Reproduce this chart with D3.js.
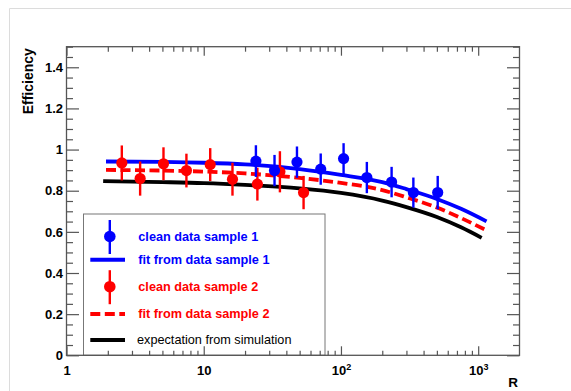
<!DOCTYPE html>
<html>
<head>
<meta charset="utf-8">
<script src="https://cdn.jsdelivr.net/npm/d3@7"></script>
<style>
  html, body { margin: 0; padding: 0; background: #fff; }
  svg { display: block; font-family: "Liberation Sans", Arial, sans-serif; }
</style>
</head>
<body>
<svg id="chart" width="571" height="391"></svg>
<script>
// ---- data ----
const redR   = [2.53, 3.44, 5.09, 7.48, 11.15, 16.2, 24.6, 35.9, 53.4];
const redEff = [0.935, 0.859, 0.931, 0.898, 0.927, 0.856, 0.832, 0.892, 0.791];
const redErr = [0.085, 0.083, 0.08, 0.082, 0.08, 0.08, 0.08, 0.10, 0.081];

const blueR   = [24.0, 32.8, 47.8, 71.2, 104.5, 154.4, 233.9, 337, 507];
const blueEff = [0.944, 0.898, 0.939, 0.905, 0.956, 0.864, 0.842, 0.791, 0.791];
const blueErr = [0.077, 0.076, 0.076, 0.076, 0.075, 0.076, 0.074, 0.073, 0.081];

const fit1R   = [1.94, 5, 10, 20, 50, 100, 200, 300, 500, 750, 1150];
const fit1Eff = [0.942, 0.940, 0.936, 0.928, 0.905, 0.877, 0.842, 0.808, 0.760, 0.712, 0.651];

const fit2R   = [1.94, 5, 10, 20, 50, 100, 200, 300, 500, 750, 1150];
const fit2Eff = [0.901, 0.898, 0.893, 0.884, 0.862, 0.838, 0.803, 0.768, 0.718, 0.667, 0.607];

const simR    = [1.85, 5, 10, 20, 50, 100, 200, 300, 500, 750, 1060];
const simEff  = [0.847, 0.842, 0.837, 0.828, 0.811, 0.789, 0.752, 0.720, 0.672, 0.622, 0.571];

const yTicks = [0, 0.2, 0.4, 0.6, 0.8, 1, 1.2, 1.4];
const yTickLabels = ["0", "0.2", "0.4", "0.6", "0.8", "1", "1.2", "1.4"];
const xTicks = [1, 10, 100, 1000];
const xTickLabels = [["1", ""], ["10", ""], ["10", "2"], ["10", "3"]];

const legendLabels = ["clean data sample 1", "fit from data sample 1",
                      "clean data sample 2", "fit from data sample 2",
                      "expectation from simulation"];

// ---- layout ----
const svg = d3.select("#chart");
const L = 66.5, R = 519.5, T = 46.7, B = 355.3;
const BLUE = "#0000ff", RED = "#ff0000";
const FRAME = "#555555";

const x = d3.scaleLog().domain([1, 2000]).range([L, R]);
const y = d3.scaleLinear().domain([0, 1.5]).range([B, T]);

// outer canvas border
svg.append("path")
  .attr("d", `M9.5,391 V8.5 H571`)
  .attr("fill", "none").attr("stroke", "#dcdcdc").attr("stroke-width", 1);

// curves
const line = d3.line().x(d => x(d[0])).y(d => y(d[1])).curve(d3.curveMonotoneX);
const curves = [
  {r: simR, e: simEff, color: "#000", dash: null},
  {r: fit2R, e: fit2Eff, color: RED, dash: "10,4.5"},
  {r: fit1R, e: fit1Eff, color: BLUE, dash: null}
];
curves.forEach(c => {
  svg.append("path")
    .datum(d3.zip(c.r, c.e))
    .attr("d", line)
    .attr("fill", "none")
    .attr("stroke", c.color)
    .attr("stroke-width", 3.8)
    .attr("stroke-dasharray", c.dash);
});

// points with error bars
function drawPoints(rs, es, errs, color) {
  const g = svg.append("g");
  const data = rs.map((r, i) => ({r, e: es[i], err: errs[i]}));
  g.selectAll("line").data(data).join("line")
    .attr("x1", d => x(d.r)).attr("x2", d => x(d.r))
    .attr("y1", d => y(d.e + d.err)).attr("y2", d => y(d.e - d.err))
    .attr("stroke", color).attr("stroke-width", 2.4);
  g.selectAll("circle").data(data).join("circle")
    .attr("cx", d => x(d.r)).attr("cy", d => y(d.e)).attr("r", 5.6)
    .attr("fill", color);
}
drawPoints(redR, redEff, redErr, RED);
drawPoints(blueR, blueEff, blueErr, BLUE);

// legend
const lg = svg.append("g");
lg.append("rect")
  .attr("x", 83.5).attr("y", 214).attr("width", 241.5).attr("height", B - 214)
  .attr("fill", "#fff").attr("stroke", "#777").attr("stroke-width", 1);
const rowY = [236.5, 259.7, 286.7, 314, 340];
const legendColors = [BLUE, BLUE, RED, RED, "#000"];
[[0, BLUE], [2, RED]].forEach(([i, col]) => {
  lg.append("line").attr("x1", 109.8).attr("x2", 109.8)
    .attr("y1", rowY[i] - 16.5).attr("y2", rowY[i] + 17.5)
    .attr("stroke", col).attr("stroke-width", 2.4);
  lg.append("circle").attr("cx", 109.8).attr("cy", rowY[i]).attr("r", 5.8).attr("fill", col);
});
[[1, BLUE, null], [3, RED, "10,4.5"], [4, "#000", null]].forEach(([i, col, dash]) => {
  lg.append("line").attr("x1", 90.3).attr("x2", 125)
    .attr("y1", rowY[i]).attr("y2", rowY[i])
    .attr("stroke", col).attr("stroke-width", 4).attr("stroke-dasharray", dash);
});
legendLabels.forEach((t, i) => {
  lg.append("text")
    .attr("x", i === 4 ? 137 : 138.3)
    .attr("y", rowY[i] + 4.3)
    .attr("fill", legendColors[i])
    .attr("font-size", "12.7px")
    .attr("font-weight", i === 4 ? "normal" : "bold")
    .text(t);
});

// frame
svg.append("rect")
  .attr("x", L).attr("y", T).attr("width", R - L).attr("height", B - T)
  .attr("fill", "none").attr("stroke", FRAME).attr("stroke-width", 1.3);

// axes
function styleAxis(g) {
  g.select(".domain").remove();
  g.selectAll(".tick line").attr("stroke", FRAME).attr("stroke-width", 1.2);
}
const yMinor = d3.range(0, 1.5001, 0.05).map(v => +v.toFixed(2)).filter(v => !yTicks.some(t => Math.abs(t - v) < 1e-6));
svg.append("g").attr("transform", `translate(${L},0)`)
  .call(d3.axisLeft(y).tickValues(yTicks).tickSize(-12.5).tickPadding(3.5)
        .tickFormat((d, i) => yTickLabels[i]))
  .call(styleAxis)
  .call(g => g.selectAll("text").attr("font-size", "13px").attr("font-weight", "bold")
               .attr("fill", "#000").attr("font-family", "Liberation Sans, Arial, sans-serif"));
svg.append("g").attr("transform", `translate(${L},0)`)
  .call(d3.axisLeft(y).tickValues(yMinor).tickSize(-6.5).tickFormat(""))
  .call(styleAxis);
svg.append("g").attr("transform", `translate(${R},0)`)
  .call(d3.axisRight(y).tickValues(yTicks).tickSize(-12.5).tickFormat(""))
  .call(styleAxis);
svg.append("g").attr("transform", `translate(${R},0)`)
  .call(d3.axisRight(y).tickValues(yMinor).tickSize(-6.5).tickFormat(""))
  .call(styleAxis);

const xMinor = [];
[1, 10, 100, 1000].forEach(dec => { for (let k = 2; k <= 9; k++) { const v = k * dec; if (v < 2000) xMinor.push(v); } });
svg.append("g").attr("transform", `translate(0,${B})`)
  .call(d3.axisBottom(x).tickValues(xTicks).tickSize(-9).tickPadding(10.5).tickFormat(""))
  .call(styleAxis)
  .call(g => g.selectAll(".tick").each(function(d, i) {
      const t = d3.select(this).select("text")
        .attr("font-size", "13px").attr("font-weight", "bold").attr("fill", "#000")
        .attr("font-family", "Liberation Sans, Arial, sans-serif");
      const lab = xTickLabels[i];
      t.append("tspan").text(lab[0]);
      if (lab[1]) t.append("tspan").attr("font-size", "9px").attr("dy", "-5").text(lab[1]);
  }));
svg.append("g").attr("transform", `translate(0,${B})`)
  .call(d3.axisBottom(x).tickValues(xMinor).tickSize(-4.5).tickFormat(""))
  .call(styleAxis);
svg.append("g").attr("transform", `translate(0,${T})`)
  .call(d3.axisTop(x).tickValues(xTicks).tickSize(-9).tickFormat(""))
  .call(styleAxis);
svg.append("g").attr("transform", `translate(0,${T})`)
  .call(d3.axisTop(x).tickValues(xMinor).tickSize(-5).tickFormat(""))
  .call(styleAxis);

// axis titles
svg.append("text")
  .attr("transform", `translate(33,${T + 1.5}) rotate(-90)`)
  .attr("text-anchor", "end")
  .attr("font-size", "14px").attr("font-weight", "bold").attr("fill", "#000")
  .text("Efficiency");
svg.append("text")
  .attr("x", 513).attr("y", 387)
  .attr("text-anchor", "middle")
  .attr("font-size", "13.5px").attr("font-weight", "bold").attr("fill", "#000")
  .text("R");
</script>
</body>
</html>
